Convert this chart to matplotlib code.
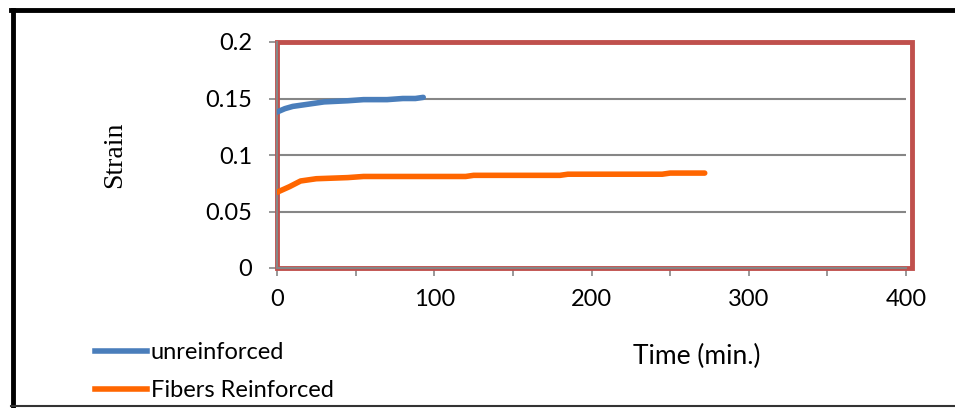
import matplotlib.pyplot as plt
from matplotlib.lines import Line2D
from matplotlib.patches import Rectangle

# creep strain readings over time
t_unr = [0, 5, 10, 20, 30, 45, 55, 70, 80, 88, 93]
s_unr = [0.138, 0.141, 0.143, 0.145, 0.147, 0.148, 0.149, 0.149, 0.150, 0.150, 0.151]

t_fib = [0, 8, 15, 25, 45, 55, 120, 125, 180, 185, 245, 250, 272]
s_fib = [0.067, 0.072, 0.077, 0.079, 0.080, 0.081, 0.081, 0.082, 0.082, 0.083, 0.083, 0.084, 0.084]

x_ticks = [0, 100, 200, 300, 400]
y_ticks = [0, 0.05, 0.1, 0.15, 0.2]
y_labels = ['0', '0.05', '0.1', '0.15', '0.2']

blue = '#4A7EBB'
orange = '#FF6600'
red = '#C0504D'
grid = '#868686'

plt.rcParams['font.family'] = ['Lato', 'DejaVu Sans']

W, H = 955, 408
fig = plt.figure(figsize=(W / 100, H / 100), dpi=100)

# outer frame: heavy left and top, thin bottom
fig.add_artist(Line2D([13 / W, 13 / W], [2 / H, 1 - 10 / H], color='black', linewidth=3.5))
fig.add_artist(Line2D([11 / W, 1], [1 - 10 / H, 1 - 10 / H], color='black', linewidth=3.5))
fig.add_artist(Line2D([11 / W, 1], [2 / H, 2 / H], color='#333333', linewidth=1.5))

ax = fig.add_axes([277 / W, 1 - 268 / H, (906 - 277) / W, (268 - 42) / H])
ax.set_xlim(0, 400)
ax.set_ylim(0, 0.2)

for y in y_ticks[1:-1]:
    ax.axhline(y, color=grid, linewidth=1.5, zorder=1)

ax.plot(t_unr, s_unr, color=blue, linewidth=4, solid_capstyle='round', zorder=3)
ax.plot(t_fib, s_fib, color=orange, linewidth=4, solid_capstyle='round', zorder=3)

for side in ['top', 'right']:
    ax.spines[side].set_visible(False)
ax.spines['left'].set_color(grid)
ax.spines['bottom'].set_color(grid)
ax.spines['left'].set_linewidth(1.5)
ax.spines['bottom'].set_linewidth(1.5)

# red plot-area border
ax.add_patch(Rectangle((0, 0), 1.01, 1, transform=ax.transAxes, fill=False,
                       edgecolor=red, linewidth=3.5, clip_on=False, zorder=2))

ax.set_xticks(x_ticks)
ax.set_xticks([50, 150, 250, 350], minor=True)
ax.set_yticks(y_ticks)
ax.set_yticklabels(y_labels)
ax.tick_params(axis='both', which='both', direction='out', color=grid,
               width=1.2, labelsize=17)
ax.tick_params(axis='x', which='both', length=6, pad=9)
ax.tick_params(axis='y', length=6, pad=12)

fig.text(115 / W, 1 - 155 / H, 'Strain', rotation=90, ha='center', va='center',
         fontsize=20, family='Liberation Serif')
fig.text(697 / W, 1 - 356 / H, 'Time (min.)', ha='center', va='center', fontsize=19)

handles = [Line2D([], [], color=blue, linewidth=4),
           Line2D([], [], color=orange, linewidth=4)]
fig.legend(handles, ['unreinforced', 'Fibers Reinforced'], loc='upper left',
           bbox_to_anchor=(74 / W, 1 - 321 / H), frameon=False, fontsize=17,
           handlelength=2.2, handletextpad=0.15, labelspacing=0.7)

fig.savefig('out.png', dpi=100)
